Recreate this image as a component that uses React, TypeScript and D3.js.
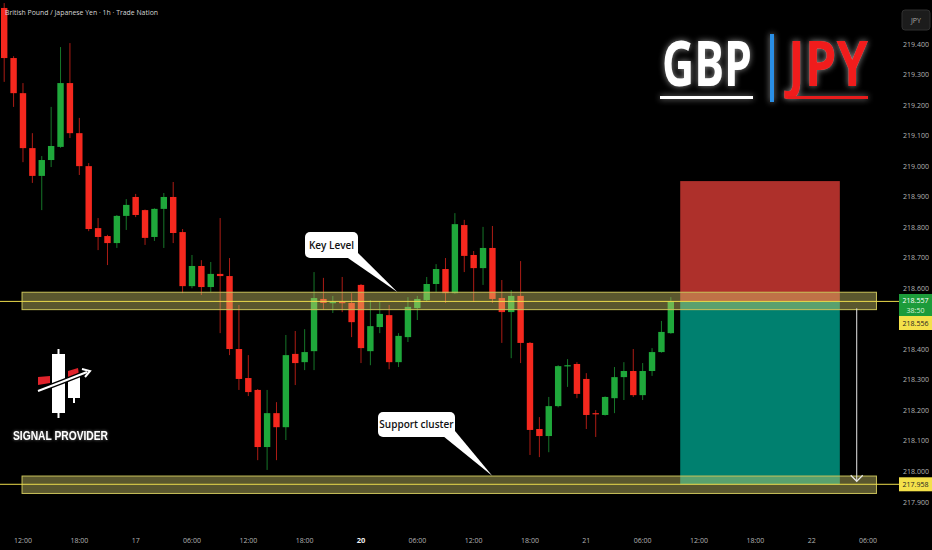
import React from 'react';
import * as d3 from 'd3';

const W = 932;
const H = 550;

// ---- Candle data (GBP/JPY, 1h) ----
const opens = [
  219.518, 219.354, 219.239, 219.059, 218.968, 219.020, 219.063, 219.272, 219.108, 219.000,
  218.797, 218.771, 218.748, 218.837, 218.899, 218.856, 218.768, 218.860, 218.899, 218.784,
  218.607, 218.673, 218.604, 218.647, 218.640, 218.401, 218.306, 218.267, 218.080, 218.191,
  218.145, 218.385, 218.358, 218.394, 218.565, 218.552, 218.555, 218.552, 218.611, 218.394,
  218.473, 218.512, 218.358, 218.440, 218.535, 218.561, 218.614, 218.663, 218.584, 218.807,
  218.709, 218.666, 218.732, 218.568, 218.522, 218.575, 218.421, 218.139, 218.116, 218.214,
  218.345, 218.352, 218.303, 218.191, 218.185, 218.240, 218.309, 218.329, 218.250, 218.329,
  218.391, 218.453,
];
const highs = [
  219.534, 219.360, 219.272, 219.108, 219.033, 219.194, 219.390, 219.403, 219.158, 219.010,
  218.830, 218.775, 218.840, 218.892, 218.909, 218.858, 218.862, 218.912, 218.948, 218.794,
  218.709, 218.692, 218.686, 218.830, 218.699, 218.545, 218.381, 218.270, 218.267, 218.227,
  218.447, 218.460, 218.466, 218.653, 218.634, 218.575, 218.637, 218.584, 218.614, 218.561,
  218.555, 218.545, 218.453, 218.571, 218.575, 218.637, 218.679, 218.699, 218.846, 218.824,
  218.722, 218.801, 218.804, 218.627, 218.594, 218.689, 218.424, 218.178, 218.244, 218.348,
  218.368, 218.358, 218.322, 218.201, 218.246, 218.342, 218.358, 218.401, 218.355, 218.404,
  218.493, 218.571,
];
const lows = [
  219.276, 219.194, 219.013, 218.945, 218.856, 218.997, 219.060, 219.092, 218.971, 218.787,
  218.725, 218.676, 218.732, 218.791, 218.833, 218.742, 218.755, 218.732, 218.748, 218.584,
  218.600, 218.578, 218.588, 218.453, 218.381, 218.267, 218.247, 218.037, 218.005, 218.037,
  218.103, 218.283, 218.332, 218.332, 218.529, 218.519, 218.522, 218.440, 218.355, 218.348,
  218.453, 218.335, 218.342, 218.424, 218.496, 218.558, 218.588, 218.552, 218.582, 218.653,
  218.555, 218.611, 218.552, 218.421, 218.371, 218.355, 218.054, 218.047, 218.063, 218.210,
  218.277, 218.240, 218.139, 218.113, 218.183, 218.191, 218.234, 218.244, 218.234, 218.313,
  218.389, 218.451,
];
const closes = [
  219.354, 219.239, 219.059, 218.968, 219.020, 219.066, 219.272, 219.108, 219.000, 218.794,
  218.768, 218.748, 218.837, 218.873, 218.840, 218.765, 218.860, 218.899, 218.781, 218.607,
  218.673, 218.604, 218.647, 218.640, 218.401, 218.303, 218.260, 218.080, 218.191, 218.145,
  218.381, 218.355, 218.391, 218.568, 218.552, 218.555, 218.552, 218.489, 218.404, 218.476,
  218.516, 218.358, 218.444, 218.539, 218.565, 218.614, 218.663, 218.584, 218.810, 218.706,
  218.666, 218.732, 218.565, 218.522, 218.575, 218.421, 218.136, 218.116, 218.214, 218.345,
  218.348, 218.254, 218.185, 218.188, 218.244, 218.309, 218.329, 218.250, 218.329, 218.391,
  218.457, 218.557,
];

const timeLabels = [
  '12:00', '18:00', '17', '06:00', '12:00', '18:00', '20', '06:00',
  '12:00', '18:00', '21', '06:00', '12:00', '18:00', '22', '06:00',
];
const boldTimeLabels = ['20'];
const priceTicks = [
  219.4, 219.3, 219.2, 219.1, 219.0, 218.9, 218.8, 218.7, 218.6, 218.4, 218.3, 218.2, 218.1, 218.0, 217.9,
];

const keyLevel = 218.557;
const supportLevel = 217.958;
const stopLevel = 218.951;
const lastPrice = '218.557';
const bidPrice = '218.556';
const countdown = '38:50';
const supportLabel = '217.958';

const xScale = d3.scaleLinear().domain([0, 92]).range([4.2, 868]);
const yScale = d3.scaleLinear().domain([217.9, 219.4]).range([502, 44]);

const RED = '#f5281e';
const GREEN = '#1fa83b';
const BAND_HALF = 0.027;

function Callout({ x, y, w, h, text, tail }: { x: number; y: number; w: number; h: number; text: string; tail: [number, number][] }) {
  return (
    <g>
      <path d={d3.line()(tail) + 'Z'} fill="#ffffff" />
      <rect x={x} y={y} width={w} height={h} rx={5} fill="#ffffff" />
      <text
        x={x + w / 2}
        y={y + h / 2 + 3.5}
        textAnchor="middle"
        fontFamily="'Open Sans', sans-serif"
        fontWeight={600}
        fontSize={10}
        fill="#111"
      >
        {text}
      </text>
    </g>
  );
}

export default function App() {
  const n = opens.length;
  const bodyW = 6.4;
  const bandLeft = xScale(1.9);
  const bandRight = xScale(92.9);
  const boxLeft = xScale(72);
  const boxRight = xScale(89);
  const arrowX = xScale(90.8);

  const keyTop = yScale(keyLevel + BAND_HALF + 0.003);
  const keyBot = yScale(keyLevel - BAND_HALF);
  const supTop = yScale(supportLevel + BAND_HALF);
  const supBot = yScale(supportLevel - BAND_HALF - 0.003);

  const keyTipX = xScale(41.9);
  const keyTipY = keyTop;
  const supTipX = xScale(52);
  const supTipY = supTop;

  return (
    <div style={{ position: 'fixed', left: 0, top: 0, width: W, height: H, background: '#000' }}>
      <svg width={W} height={H} viewBox={`0 0 ${W} ${H}`} style={{ display: 'block', background: '#000' }}>
        <defs>
          <filter id="glow" x="-30%" y="-30%" width="160%" height="160%">
            <feGaussianBlur in="SourceAlpha" stdDeviation="3" result="blur" />
            <feFlood floodColor="#bbbbbb" floodOpacity="0.75" />
            <feComposite in2="blur" operator="in" result="glowC" />
            <feMerge>
              <feMergeNode in="glowC" />
              <feMergeNode in="SourceGraphic" />
            </feMerge>
          </filter>
          <filter id="glowSmall" x="-20%" y="-50%" width="140%" height="200%">
            <feGaussianBlur in="SourceAlpha" stdDeviation="1.6" result="blur" />
            <feFlood floodColor="#aaaaaa" floodOpacity="0.7" />
            <feComposite in2="blur" operator="in" result="glowC" />
            <feMerge>
              <feMergeNode in="glowC" />
              <feMergeNode in="SourceGraphic" />
            </feMerge>
          </filter>
        </defs>

        <rect x={0} y={0} width={W} height={H} fill="#000" />

        {/* Trade zones */}
        <rect x={boxLeft} y={yScale(stopLevel)} width={boxRight - boxLeft} height={yScale(keyLevel) - yScale(stopLevel)} fill="#ae302b" />
        <rect x={boxLeft} y={yScale(keyLevel)} width={boxRight - boxLeft} height={yScale(supportLevel) - yScale(keyLevel)} fill="#00806f" />

        {/* Candles */}
        <g>
          {d3.range(n).map((i) => {
            const up = closes[i] >= opens[i];
            const col = up ? GREEN : RED;
            const cx = xScale(i);
            const top = yScale(Math.max(opens[i], closes[i]));
            const bot = yScale(Math.min(opens[i], closes[i]));
            return (
              <g key={i}>
                <line x1={cx} x2={cx} y1={yScale(highs[i])} y2={yScale(lows[i])} stroke={col} strokeWidth={1} strokeOpacity={0.7} />
                <rect x={cx - bodyW / 2} y={top} width={bodyW} height={Math.max(1.2, bot - top)} fill={col} />
              </g>
            );
          })}
        </g>

        {/* Level bands */}
        <rect x={bandLeft} y={keyTop} width={bandRight - bandLeft} height={keyBot - keyTop} fill="rgba(215,208,110,0.42)" stroke="#c9c25a" strokeWidth={1} />
        <rect x={bandLeft} y={supTop} width={bandRight - bandLeft} height={supBot - supTop} fill="rgba(215,208,110,0.42)" stroke="#c9c25a" strokeWidth={1} />
        <line x1={0} x2={899} y1={yScale(keyLevel)} y2={yScale(keyLevel)} stroke="#ecdc4c" strokeWidth={1} />
        <line x1={0} x2={899} y1={yScale(supportLevel)} y2={yScale(supportLevel)} stroke="#ecdc4c" strokeWidth={1} />

        {/* Target arrow */}
        <line x1={arrowX} x2={arrowX} y1={yScale(keyLevel) + 7} y2={yScale(supportLevel) - 3} stroke="#e8e8e8" strokeWidth={1} />
        <path
          d={`M${arrowX - 6},${yScale(supportLevel) - 9} L${arrowX},${yScale(supportLevel) - 3} L${arrowX + 6},${yScale(supportLevel) - 9}`}
          fill="none"
          stroke="#e8e8e8"
          strokeWidth={1.2}
        />

        {/* Callouts */}
        <Callout x={305} y={232} w={53} h={26} text="Key Level" tail={[[345, 256], [357, 252], [keyTipX, keyTipY]]} />
        <Callout x={378} y={412} w={77} h={25} text="Support cluster" tail={[[443, 436], [455, 431], [supTipX, supTipY]]} />

        {/* Header */}
        <text x={5} y={15} fontFamily="'Open Sans', sans-serif" fontSize={8} fill="#d6d6d6" textLength={153} lengthAdjust="spacingAndGlyphs">
          British Pound / Japanese Yen · 1h · Trade Nation
        </text>

        {/* GBP | JPY logo */}
        <g filter="url(#glow)">
          <text x={662} y={86} fontFamily="'Open Sans', sans-serif" fontWeight={700} fontSize={62} fill="#ffffff" textLength={90} lengthAdjust="spacingAndGlyphs">
            GBP
          </text>
          <rect x={660} y={96} width={93} height={3} fill="#ffffff" />
          <text x={788} y={86} fontFamily="'Open Sans', sans-serif" fontWeight={700} fontSize={62} fill="#f01b1b" textLength={80} lengthAdjust="spacingAndGlyphs">
            JPY
          </text>
          <rect x={788} y={96} width={80} height={3} fill="#e81c1c" />
          <rect x={770} y={34} width={4} height={68} fill="#2b8fe6" />
        </g>

        {/* Signal Provider logo */}
        <g>
          <line x1={58.5} x2={58.5} y1={349} y2={418} stroke="#fff" strokeWidth={2} />
          <rect x={52} y={354} width={13} height={59} fill="#fff" />
          <line x1={74} x2={74} y1={370} y2={403} stroke="#fff" strokeWidth={2} />
          <rect x={68} y={377} width={12} height={21} fill="#fff" />
          <path d="M38,377 L50,376 L50,383 L38,385 Z" fill="#e0232b" />
          <path d="M68,371 L78,368 L79,375 L68,378 Z" fill="#e0232b" />
          <path d="M38,391 Q62,382 87,372" fill="none" stroke="#000" strokeWidth={5} />
          <path d="M38,391 Q62,382 87,372" fill="none" stroke="#fff" strokeWidth={2} />
          <path d="M82,369 L90,371 L85,377" fill="none" stroke="#fff" strokeWidth={2} />
          <text x={13} y={440} fontFamily="'Liberation Sans', Arial, sans-serif" fontWeight={700} fontSize={13} fill="#fff" textLength={95} lengthAdjust="spacingAndGlyphs" filter="url(#glowSmall)">
            SIGNAL PROVIDER
          </text>
        </g>

        {/* Right price axis */}
        <rect x={902} y={10} width={28} height={20} rx={3} fill="#1c1c1c" stroke="#303030" strokeWidth={1} />
        <text x={916} y={22.5} textAnchor="middle" fontFamily="'Open Sans', sans-serif" fontSize={7} fill="#a8a8a8">JPY</text>
        {priceTicks.map((p) => (
          <text key={p} x={916} y={yScale(p) + 2.5} textAnchor="middle" fontFamily="'Open Sans', sans-serif" fontSize={7} fill="#b4b4b4">
            {d3.format('.3f')(p)}
          </text>
        ))}

        {/* Price labels */}
        <rect x={899} y={294} width={33} height={22} fill="#1c9b3a" />
        <text x={915.5} y={303} textAnchor="middle" fontFamily="'Open Sans', sans-serif" fontSize={7} fill="#ffffff">{lastPrice}</text>
        <text x={915.5} y={312.5} textAnchor="middle" fontFamily="'Open Sans', sans-serif" fontSize={7} fill="#d8f2d8">{countdown}</text>
        <rect x={899} y={316} width={33} height={14} fill="#f4e14a" />
        <text x={915.5} y={325.5} textAnchor="middle" fontFamily="'Open Sans', sans-serif" fontSize={7} fill="#222">{bidPrice}</text>
        <rect x={899} y={yScale(supportLevel) - 7} width={33} height={14} fill="#f4e14a" />
        <text x={915.5} y={yScale(supportLevel) + 2.5} textAnchor="middle" fontFamily="'Open Sans', sans-serif" fontSize={7} fill="#222">{supportLabel}</text>

        {/* Time axis */}
        {timeLabels.map((t, k) => {
          const bold = boldTimeLabels.includes(t);
          return (
            <text
              key={k}
              x={xScale(2 + 6 * k)}
              y={543}
              textAnchor="middle"
              fontFamily="'Open Sans', sans-serif"
              fontSize={bold ? 7.5 : 7}
              fontWeight={bold ? 700 : 400}
              fill={bold ? '#f0f0f0' : '#b4b4b4'}
            >
              {t}
            </text>
          );
        })}
      </svg>
    </div>
  );
}
